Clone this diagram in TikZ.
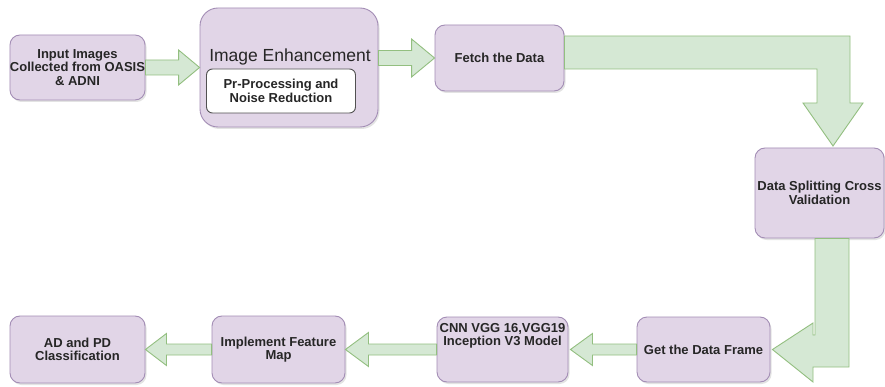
\documentclass[tikz,border=0pt]{standalone}
\usepackage{fontspec}
\setmainfont{Liberation Sans}
\usetikzlibrary{calc,shadows}
\definecolor{boxfill}{HTML}{E1D5E7}
\definecolor{boxline}{HTML}{A38DB5}
\definecolor{arrfill}{HTML}{D5E8D4}
\definecolor{arrline}{HTML}{93BF80}
\definecolor{txt}{HTML}{262626}
\newcommand{\flatarrow}[5]{\draw[garrow] let \p1=(#1), \p2=(#2) in
	({\x1},{\y1+#3}) -- ({\x2-(#5)},{\y1+#3}) -- ({\x2-(#5)},{\y1+#4}) -- ({\x2},{\y1})
	-- ({\x2-(#5)},{\y1-#4}) -- ({\x2-(#5)},{\y1-#3}) -- ({\x1},{\y1-#3}) -- cycle;}

\begin{document}
\begin{tikzpicture}[x=1pt,y=-1pt,
		box/.style={draw=boxline, line width=0.9pt, fill=boxfill, rounded corners=10pt,
			text=txt, align=center, inner sep=0pt,
			font=\fontsize{13}{13.5}\selectfont\bfseries,
			drop shadow={shadow xshift=1.5pt, shadow yshift=-2pt, opacity=0.22}},
		innerbox/.style={draw=txt!80, line width=0.9pt, fill=white, rounded corners=6pt,
			text=txt, align=center, inner sep=0pt,
			font=\fontsize{13}{14}\selectfont\bfseries},
		garrow/.style={draw=arrline, line width=0.9pt, fill=arrfill, line join=miter}]
	\useasboundingbox (0,0) rectangle (885,387);
	\fill[white] (0,0) rectangle (885,387);

	\node[box, minimum width=135pt, minimum height=65pt] (inp) at (77.5,67.5) {Input Images\\Collected from OASIS\\\& ADNI};
	\node[box, minimum width=178pt, minimum height=119pt, rounded corners=18pt] (enh) at (289,67.5) {};
	\node[text=txt, font=\fontsize{17.5}{18}\selectfont] (enhtitle) at (290,57) {Image Enhancement};
	\node[innerbox, minimum width=149pt, minimum height=44pt] (prep) at (281,91) {Pr-Processing and\\Noise Reduction};
	\node[box, minimum width=129pt, minimum height=66pt] (fetch) at (499.5,58) {Fetch the Data};
	\node[box, minimum width=129pt, minimum height=90pt] (split) at (819.5,193) {Data Splitting Cross\\Validation};
	\node[box, minimum width=133pt, minimum height=65pt] (frame) at (703.5,349.5) {Get the Data Frame};
	\node[box, minimum width=131pt, minimum height=65pt,
		label={[text=txt, align=center, font=\fontsize{13}{13.5}\selectfont\bfseries, anchor=north, yshift=-3pt]north:CNN VGG 16,VGG19\\Inception V3 Model}] (cnn) at (502.5,349.5) {};
	\node[box, minimum width=133pt, minimum height=67pt] (feat) at (278.5,349.5) {Implement Feature\\Map};
	\node[box, minimum width=135pt, minimum height=67pt] (cls) at (77.5,349.5) {AD and PD\\Classification};

	\flatarrow{inp.east}{enh.west}{7.5pt}{17.5pt}{21pt}
	\flatarrow{enh.east |- fetch.west}{fetch.west}{7.5pt}{19pt}{23pt}
	\draw[garrow] (fetch.east |- 0,36) -- (850,36) -- (850,103) -- (863,103) -- (833,146)
		-- (803,103) -- (817,103) -- (817,69) -- (fetch.east |- 0,69) -- cycle;
	\draw[garrow] (split.south -| 815,0) -- (split.south -| 849,0) -- (849,367) -- (813,367) -- (813,382)
		-- ($(frame.east)+(2,0)$) -- (813,323) -- (813,335) -- (815,335) -- cycle;
	\flatarrow{frame.west}{$(cnn.east)+(2,0)$}{5.5pt}{16pt}{-22pt}
	\flatarrow{cnn.west}{feat.east}{5.5pt}{17pt}{-23pt}
	\flatarrow{feat.west}{cls.east}{5.5pt}{16pt}{-21pt}
\end{tikzpicture}
\end{document}
